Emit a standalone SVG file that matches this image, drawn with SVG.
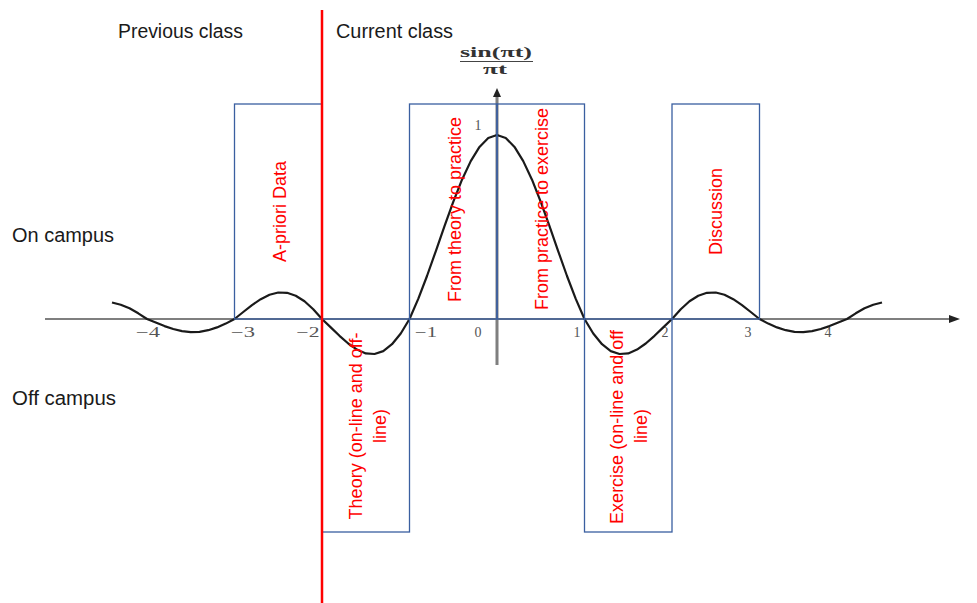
<svg xmlns="http://www.w3.org/2000/svg" width="977" height="603" viewBox="0 0 977 603">
<style>
.box{fill:none;stroke:#3a5fa0;stroke-width:1.3}
.lbl{font-family:"Liberation Sans",Arial,sans-serif;font-size:20px;fill:#1a1a1a}
.rt{font-family:"Liberation Sans",Arial,sans-serif;font-size:18px;fill:#ff0000;text-anchor:middle}
.ax{font-family:"Liberation Serif","Times New Roman",serif;font-size:14px;fill:#555;text-anchor:middle}
.fm{font-family:"Liberation Serif","Times New Roman",serif;font-size:15px;font-weight:bold;fill:#333;text-anchor:middle}
</style>
<rect width="977" height="603" fill="#ffffff"/>
<g id="chart">
<line x1="45" y1="319" x2="952" y2="319" stroke="#7f7f7f" stroke-width="2"/>
<polygon points="960,319 949,315 949,323" fill="#222"/>
<line x1="497" y1="96" x2="497" y2="365" stroke="#7f7f7f" stroke-width="3"/>
<polygon points="497,88 493,97 501,97" fill="#222"/>
<g class="ax">
<text x="148" y="337" textLength="24" lengthAdjust="spacingAndGlyphs">−4</text><text x="243" y="337" textLength="24" lengthAdjust="spacingAndGlyphs">−3</text><text x="308" y="337" textLength="23" lengthAdjust="spacingAndGlyphs">−2</text><text x="426" y="337" textLength="22" lengthAdjust="spacingAndGlyphs">−1</text><text x="478" y="337">0</text><text x="577" y="337">1</text><text x="665" y="337">2</text><text x="748" y="337">3</text><text x="828" y="337">4</text>
<text x="478" y="130">1</text>
</g>
<text class="fm" x="496" y="57" textLength="72" lengthAdjust="spacingAndGlyphs">sin(πt)</text>
<line x1="460" y1="61.5" x2="533" y2="61.5" stroke="#444" stroke-width="1.2"/>
<text class="fm" x="495" y="74" textLength="24" lengthAdjust="spacingAndGlyphs">πt</text>
<polyline fill="none" stroke="#1a1a1a" stroke-width="2.2" stroke-linejoin="round" points="112,302.5 120.75,304.7 129.5,308.3 138.25,313.3 147,319 155.75,322.6 164.5,326.1 173.25,329 182,331.1 190.75,332.1 199.5,331.8 208.25,330.2 217,327.4 225.75,323.6 234.5,319 243.25,312 252,305.1 260.75,299.2 269.5,294.8 278.25,292.5 287,292.8 295.75,295.7 304.5,301.3 313.25,309.3 322,319 330.75,327.4 339.5,335.8 348.25,343.5 357,349.6 365.75,353.4 374.5,354 383.25,351.1 392,344.2 400.75,333.5 409.5,319 418.25,298.9 427,276 435.75,251.3 444.5,226.2 453.25,201.9 462,179.7 470.75,161.1 479.5,146.9 488.25,138 497,135 505.75,138 514.5,146.9 523.25,161.1 532,179.7 540.75,201.9 549.5,226.2 558.25,251.3 567,276 575.75,298.9 584.5,319 593.25,333.5 602,344.2 610.75,351.1 619.5,354 628.25,353.4 637,349.6 645.75,343.5 654.5,335.8 663.25,327.4 672,319 680.75,309.3 689.5,301.3 698.25,295.7 707,292.8 715.75,292.5 724.5,294.8 733.25,299.2 742,305.1 750.75,312 759.5,319 768.25,323.6 777,327.4 785.75,330.2 794.5,331.8 803.25,332.1 812,331.1 820.75,329 829.5,326.1 838.25,322.6 847,319 855.75,313.3 864.5,308.3 873.25,304.7 882,302.5"/>
</g>
<g id="apriori">
<rect class="box" x="234.5" y="104" width="87.5" height="215"/>
<text class="rt" transform="translate(286,211.5) rotate(-90)">A-priori Data</text>
</g>
<g id="theory-practice">
<rect class="box" x="409.5" y="104" width="87.5" height="215"/>
<text class="rt" transform="translate(461,209.5) rotate(-90)">From theory to practice</text>
</g>
<g id="practice-exercise">
<rect class="box" x="497" y="104" width="87.5" height="215"/>
<text class="rt" transform="translate(548,209) rotate(-90)">From practice to exercise</text>
</g>
<g id="discussion">
<rect class="box" x="672" y="104" width="87.5" height="215"/>
<text class="rt" transform="translate(722,211.5) rotate(-90)">Discussion</text>
</g>
<g id="theory">
<rect class="box" x="322" y="319" width="87.5" height="213"/>
<text class="rt" transform="translate(361.5,426) rotate(-90)">Theory (on-line and off-</text>
<text class="rt" transform="translate(385.5,426) rotate(-90)">line)</text>
</g>
<g id="exercise">
<rect class="box" x="584.5" y="319" width="87.5" height="213"/>
<text class="rt" transform="translate(623,427) rotate(-90)">Exercise (on-line and off</text>
<text class="rt" transform="translate(647,426) rotate(-90)">line)</text>
</g>
<g id="divider">
<line x1="322" y1="10" x2="322" y2="603" stroke="#ff0000" stroke-width="2.5"/>
</g>
<g id="labels">
<text class="lbl" x="118" y="38" textLength="125" lengthAdjust="spacingAndGlyphs">Previous class</text>
<text class="lbl" x="336" y="38" textLength="117" lengthAdjust="spacingAndGlyphs">Current class</text>
<text class="lbl" x="12" y="242" textLength="102" lengthAdjust="spacingAndGlyphs">On campus</text>
<text class="lbl" x="12" y="405" textLength="104" lengthAdjust="spacingAndGlyphs">Off campus</text>
</g>
</svg>
